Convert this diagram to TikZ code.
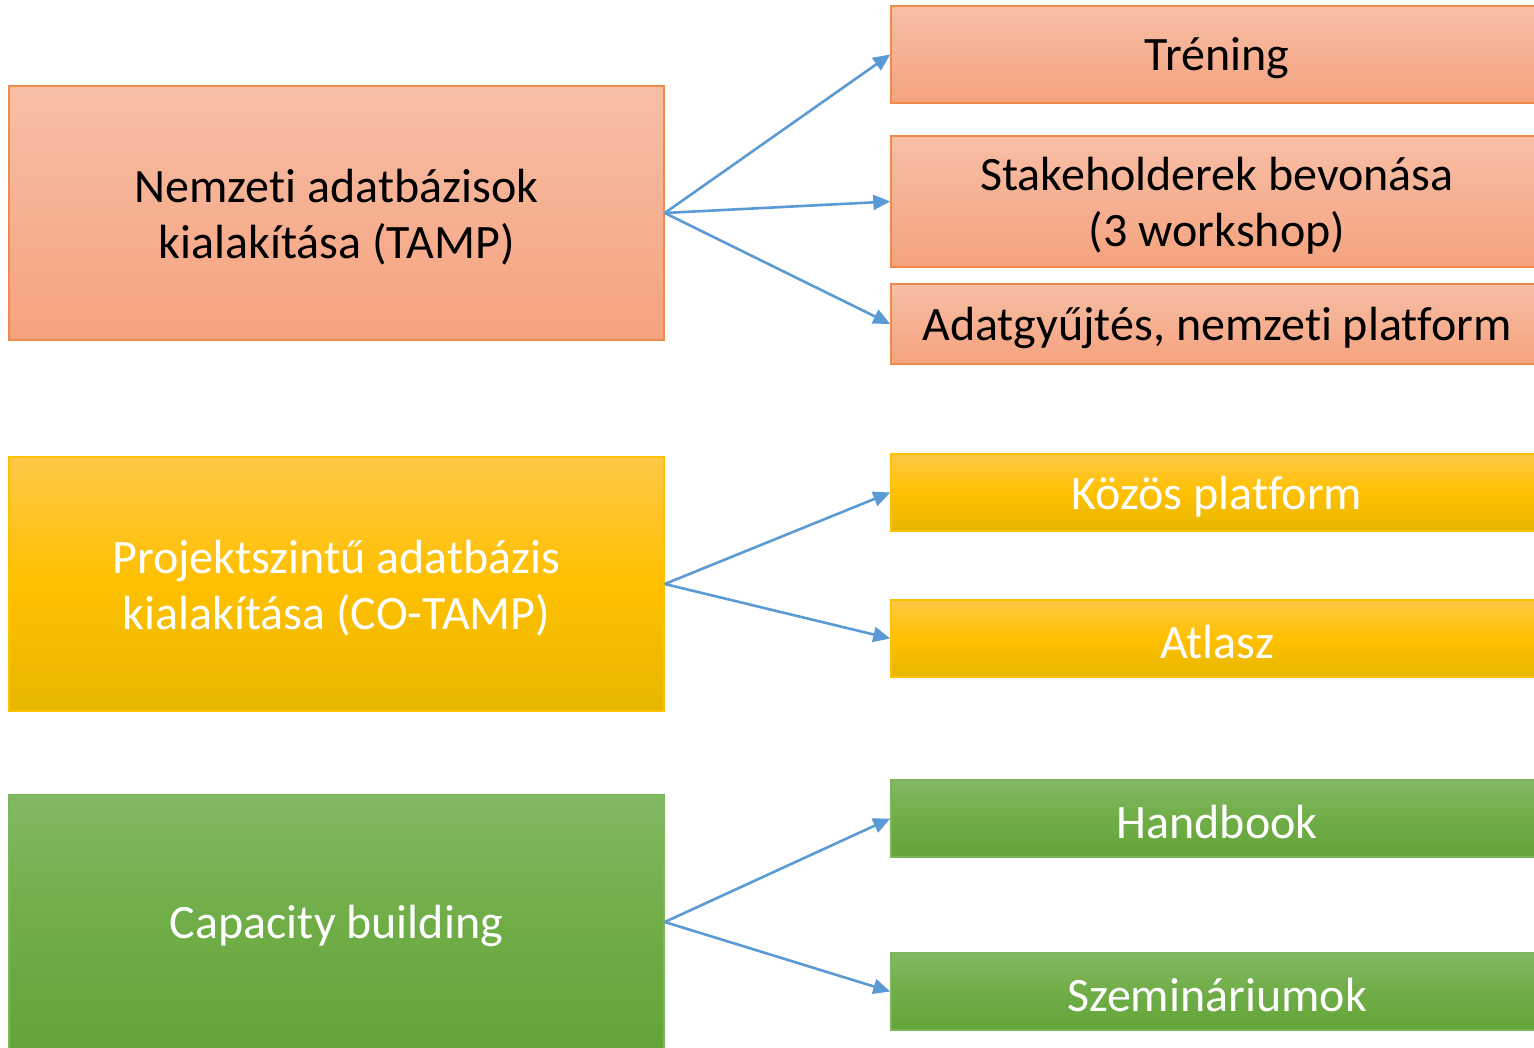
\documentclass[tikz,border=0pt]{standalone}
\usepackage{fontspec}
\setmainfont[Ligatures={NoCommon}]{Carlito}
\usetikzlibrary{arrows.meta}
\definecolor{orTop}{HTML}{F7BFA6}
\definecolor{orMid}{HTML}{F6B092}
\definecolor{orBot}{HTML}{F5A37E}
\definecolor{orLine}{HTML}{F08A4B}
\definecolor{yeTop}{HTML}{FFC846}
\definecolor{yeMid}{HTML}{FFC000}
\definecolor{yeBot}{HTML}{E6B700}
\definecolor{yeLine}{HTML}{FFC000}
\definecolor{grTop}{HTML}{83B863}
\definecolor{grMid}{HTML}{70AD47}
\definecolor{grBot}{HTML}{63A53A}
\definecolor{grLine}{HTML}{7DB55A}
\definecolor{arrowBlue}{HTML}{5B9BD5}
\tikzset{
  box/.style={rectangle, inner sep=0pt, line width=1.5pt},
  orbox/.style={box, draw=orLine, top color=orTop, bottom color=orBot, middle color=orMid},
  yebox/.style={box, draw=yeLine, top color=yeTop, bottom color=yeBot, middle color=yeMid},
  grbox/.style={box, draw=grLine, top color=grTop, bottom color=grBot, middle color=grMid},
  leftbox/.style={minimum width=655pt, minimum height=254pt},
  rightbox/.style={minimum width=652pt},
  lbl/.style={inner sep=0pt, align=center, font=\fontsize{48}{56}\selectfont, yshift=-4pt},
  darklbl/.style={lbl, text=black},
  lightlbl/.style={lbl, text=white},
  conn/.style={draw=arrowBlue, line width=2.6pt, -{Triangle[length=17pt,width=15pt]}}
}
\begin{document}
\begin{tikzpicture}[x=1pt,y=-1pt]
\useasboundingbox (0,0) rectangle (1534,1048);
\clip (0,0) rectangle (1534,1048);
\fill[white] (0,0) rectangle (1534,1048);
% left boxes
\node[orbox,leftbox] (tamp) at (336.5,213) {};
\node[yebox,leftbox] (cotamp) at (336.5,584) {};
\node[grbox,leftbox] (cap) at (336.5,922) {};
% right boxes
\node[orbox,rightbox,minimum height=97pt] (tren) at (1217,54.5) {};
\node[orbox,rightbox,minimum height=131pt] (stake) at (1217,201.5) {};
\node[orbox,rightbox,minimum height=80pt] (adat) at (1217,324) {};
\node[yebox,rightbox,minimum height=77pt] (kozos) at (1217,492.5) {};
\node[yebox,rightbox,minimum height=77pt] (atlasz) at (1217,638.5) {};
\node[grbox,rightbox,minimum height=77pt] (hand) at (1217,818.5) {};
\node[grbox,rightbox,minimum height=77pt] (szem) at (1217,991.5) {};
% texts
\node[darklbl] (tampT) at (tamp.center) {Nemzeti adatbázisok\\kialakítása (TAMP)};
\node[lightlbl] (cotampT) at (cotamp.center) {Projektszintű adatbázis\\kialakítása (CO-TAMP)};
\node[lightlbl] (capT) at (cap.center) {Capacity building};
\node[darklbl] (trenT) at (tren.center) {Tréning};
\node[darklbl] (stakeT) at (stake.center) {Stakeholderek bevonása\\(3 workshop)};
\node[darklbl] (adatT) at (adat.center) {Adatgyűjtés, nemzeti platform};
\node[lightlbl] (kozosT) at (kozos.center) {Közös platform};
\node[lightlbl] (atlaszT) at (atlasz.center) {Atlasz};
\node[lightlbl] (handT) at (hand.center) {Handbook};
\node[lightlbl] (szemT) at (szem.center) {Szemináriumok};
% connectors
\draw[conn] (tamp.east) -- (tren.west);
\draw[conn] (tamp.east) -- (stake.west);
\draw[conn] (tamp.east) -- (adat.west);
\draw[conn] (cotamp.east) -- (kozos.west);
\draw[conn] (cotamp.east) -- (atlasz.west);
\draw[conn] (cap.east) -- (hand.west);
\draw[conn] (cap.east) -- (szem.west);
\end{tikzpicture}
\end{document}
